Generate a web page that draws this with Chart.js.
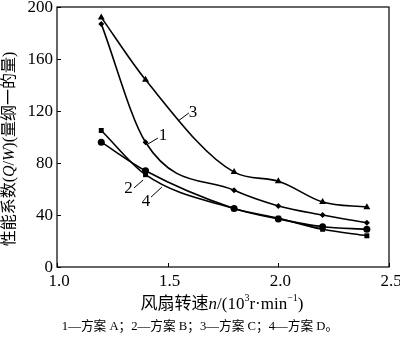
<!DOCTYPE html>
<html>
<head>
<meta charset="utf-8">
<script src="https://cdn.jsdelivr.net/npm/chart.js@4/dist/chart.umd.min.js"></script>
<style>
  html, body { margin: 0; padding: 0; background: #fff; }
  canvas { display: block; }
</style>
</head>
<body>
<canvas id="chart" width="400" height="337"></canvas>
<script>
// fan speed, 10^3 r/min
const speeds = [1.2, 1.4, 1.8, 2.0, 2.2, 2.4];
// performance coefficient Q/W for each scheme
const planA = [187, 96, 59, 47, 40, 34];
const planB = [96, 74, 45, 37, 31, 29];
const planC = [192, 144, 73, 66, 50, 46];
const planD = [105, 71, 45, 37.5, 29, 24];

const xTicks = [1.0, 1.5, 2.0, 2.5];
const yTicks = [0, 40, 80, 120, 160, 200];
const xTickLabels = ["1.0", "1.5", "2.0", "2.5"];
const yTickLabels = ["0", "40", "80", "120", "160", "200"];

const caption = "1—方案 A；2—方案 B；3—方案 C；4—方案 D。";

// curve labels: text, label point, leader start, leader end (data units)
const curveLabels = [
  { text: "1", at: [1.479, 100.8], from: [1.411, 94.6], to: [1.456, 99.2] },
  { text: "2", at: [1.323, 60], from: [1.389, 66.9], to: [1.348, 60.8] },
  { text: "3", at: [1.614, 119.2], from: [1.547, 112.3], to: [1.596, 118.5] },
  { text: "4", at: [1.402, 50], from: [1.474, 61.5], to: [1.425, 53.8] },
];

const SERIF = "'Liberation Serif', 'Noto Sans CJK SC', serif";

function toPoints(ys) {
  return speeds.map((x, i) => ({ x, y: ys[i] }));
}

function series(label, ys, pointStyle, radius) {
  return {
    label,
    data: toPoints(ys),
    borderColor: "#000",
    backgroundColor: "#000",
    borderWidth: 1.6,
    pointStyle,
    pointRadius: radius,
    pointBorderWidth: 0,
    cubicInterpolationMode: "monotone",
  };
}

// draw a run of [text, italic, superscript] pieces starting at x
function drawRuns(ctx, runs, x, y, size) {
  runs.forEach(([t, italic, sup]) => {
    const s = sup ? Math.round(size * 0.6) : size;
    ctx.font = (italic ? "italic " : "") + s + "px " + SERIF;
    ctx.fillText(t, x, sup ? y - size * 0.38 : y);
    x += ctx.measureText(t).width;
  });
}

function runsWidth(ctx, runs, size) {
  let w = 0;
  runs.forEach(([t, italic, sup]) => {
    const s = sup ? Math.round(size * 0.6) : size;
    ctx.font = (italic ? "italic " : "") + s + "px " + SERIF;
    w += ctx.measureText(t).width;
  });
  return w;
}

const decorations = {
  id: "decorations",
  afterDraw(chart) {
    const { ctx, chartArea: a, scales } = chart;
    const xs = scales.x, ys = scales.y;
    ctx.save();
    ctx.fillStyle = "#000";
    ctx.strokeStyle = "#000";

    // frame
    ctx.lineWidth = 1.2;
    ctx.strokeRect(a.left, a.top, a.right - a.left, a.bottom - a.top);

    // inward ticks
    ctx.lineWidth = 1;
    ctx.beginPath();
    xTicks.forEach(v => {
      const px = Math.round(xs.getPixelForValue(v)) + 0.5;
      ctx.moveTo(px, a.bottom);
      ctx.lineTo(px, a.bottom - 4);
    });
    yTicks.forEach(v => {
      const py = Math.round(ys.getPixelForValue(v)) + 0.5;
      ctx.moveTo(a.left, py);
      ctx.lineTo(a.left + 4, py);
    });
    ctx.stroke();

    // tick labels
    ctx.font = "17px " + SERIF;
    ctx.textBaseline = "middle";
    ctx.textAlign = "center";
    xTicks.forEach((v, i) => {
      ctx.fillText(xTickLabels[i], xs.getPixelForValue(v) + 2, a.bottom + 15);
    });
    ctx.textAlign = "right";
    yTicks.forEach((v, i) => {
      ctx.fillText(yTickLabels[i], a.left - 4, ys.getPixelForValue(v) + 1);
    });

    // curve labels with leaders
    ctx.textAlign = "center";
    ctx.font = "17px " + SERIF;
    curveLabels.forEach(l => {
      ctx.fillText(l.text, xs.getPixelForValue(l.at[0]), ys.getPixelForValue(l.at[1]));
      ctx.beginPath();
      ctx.moveTo(xs.getPixelForValue(l.from[0]), ys.getPixelForValue(l.from[1]));
      ctx.lineTo(xs.getPixelForValue(l.to[0]), ys.getPixelForValue(l.to[1]));
      ctx.stroke();
    });

    // x title
    ctx.textAlign = "left";
    const xRuns = [["风扇转速"], ["n", true], ["/(10"], ["3", false, true], ["r·min"], ["−1", false, true], [")"]];
    const xw = runsWidth(ctx, xRuns, 17);
    drawRuns(ctx, xRuns, 222 - xw / 2, 305, 17);

    // y title
    const yRuns = [["性能系数("], ["Q", true], ["/"], ["W", true], [")(量纲一的量)"]];
    ctx.save();
    ctx.translate(10, 149);
    ctx.rotate(-Math.PI / 2);
    const yw = runsWidth(ctx, yRuns, 16);
    drawRuns(ctx, yRuns, -yw / 2, 0, 16);
    ctx.restore();

    // caption
    ctx.textAlign = "center";
    ctx.font = "12.7px " + SERIF;
    ctx.fillText(caption, 200, 327);

    ctx.restore();
  },
};

new Chart(document.getElementById("chart"), {
  type: "line",
  data: {
    datasets: [
      series("1", planA, "rectRot", 3),
      series("2", planB, "circle", 3.5),
      series("3", planC, "triangle", 4),
      series("4", planD, "rect", 3.5),
    ],
  },
  options: {
    responsive: false,
    animation: false,
    devicePixelRatio: 1,
    layout: { padding: { top: 7, right: 11, left: 0, bottom: 0 } },
    plugins: { legend: { display: false }, tooltip: { enabled: false } },
    scales: {
      x: {
        type: "linear",
        min: 1,
        max: 2.5,
        ticks: { display: false },
        grid: { display: false },
        border: { display: false },
        afterFit(s) { s.height = 70; },
      },
      y: {
        min: 0,
        max: 200,
        ticks: { display: false },
        grid: { display: false },
        border: { display: false },
        afterFit(s) { s.width = 57; },
      },
    },
  },
  plugins: [decorations],
});
</script>
</body>
</html>
